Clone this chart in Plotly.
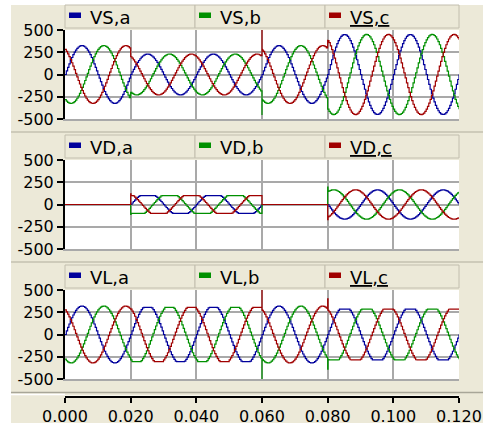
import numpy as np
import plotly.graph_objects as go

# ---------------- data ----------------
seg_edges = [0.0, 0.02, 0.06, 0.08, 0.12]          # s, disturbance segments
freq_hz = 50.0
phase_deg = {"a": 0.0, "b": -120.0, "c": 120.0}

vs_amp = [325, 230, 325, 450]     # source voltage amplitude per segment
vs_clip = [325, 230, 325, 450]
vd_amp = [0, 135, 0, -165]        # injected (DVR) voltage amplitude per segment
vd_clip = [0, 100, 0, 165]
vl_amp = [320, 330, 320, 320]     # load voltage amplitude per segment
vl_clip = [320, 305, 320, 285]

# switching transients (phase, time, value)
vs_spikes = [("c", 0.06, 500), ("b", 0.06, -455), ("c", 0.08, 370)]
vd_spikes = [("c", 0.02, 120), ("b", 0.02, -110), ("b", 0.08, 195), ("c", 0.08, -170)]
vl_spikes = [("c", 0.06, 500), ("b", 0.06, -500), ("c", 0.08, 400), ("b", 0.08, -390)]

panel_names = ["VS", "VD", "VL"]
phases = ["a", "b", "c"]
phase_colors = {"a": "#00009C", "b": "#009000", "c": "#A00000"}

y_tick_vals = [-500, -250, 0, 250, 500]
y_tick_text = ["-500", "-250", "0", "250", "500"]
x_tick_vals = [0.0, 0.02, 0.04, 0.06, 0.08, 0.10, 0.12]
x_tick_text = ["0.000", "0.020", "0.040", "0.060", "0.080", "0.100", "0.120"]

# ---------------- build waveforms ----------------
DT = 0.0004
t = np.arange(0.0, 0.12 + DT / 2, DT)


def wave(tt, amps, clips, ph):
    seg = np.clip(np.searchsorted(seg_edges, tt, side="right") - 1, 0, len(amps) - 1)
    A = np.array(amps, dtype=float)[seg]
    C = np.array(clips, dtype=float)[seg]
    v = A * np.sin(2 * np.pi * freq_hz * tt + np.deg2rad(ph))
    return np.clip(v, -np.abs(C), np.abs(C))


def series(amps, clips, spikes, p):
    tt = t.copy()
    vv = wave(tt, amps, clips, phase_deg[p])
    for (sp, st, sv) in spikes:
        if sp != p:
            continue
        t_back = st + 0.00012
        tt = np.append(tt, [st, t_back])
        vv = np.append(vv, [sv, wave(np.array([t_back]), amps, clips, phase_deg[p])[0]])
    order = np.argsort(tt, kind="stable")
    return tt[order], vv[order]


panel_params = [(vs_amp, vs_clip, vs_spikes), (vd_amp, vd_clip, vd_spikes), (vl_amp, vl_clip, vl_spikes)]

# ---------------- layout geometry (pixels) ----------------
W, H = 483, 423
BG = "#ECE9D8"
X0, X1 = 65, 459
panel_px = [(30, 119), (160, 249), (290, 379)]   # top, bottom of plot areas
legend_px = [5, 135, 265]                         # top of legend strips
box_x = [(65, 195), (195, 325), (325, 459)]


def fx(px):
    return px / W


def fy(px):
    return 1 - px / H


fig = go.Figure()

for i, (amps, clips, spikes) in enumerate(panel_params):
    xa = "x" if i == 0 else f"x{i+1}"
    ya = "y" if i == 0 else f"y{i+1}"
    for p in phases:
        tt, vv = series(amps, clips, spikes, p)
        fig.add_trace(go.Scatter(
            x=tt, y=vv, mode="lines", line=dict(color=phase_colors[p], width=1.2, shape="hv"),
            xaxis=xa, yaxis=ya, showlegend=False, hoverinfo="skip"))

# dummy trace for the bottom time axis
fig.add_trace(go.Scatter(x=[0.0, 0.12], y=[0, 0], mode="lines", line=dict(width=0),
                         opacity=0, xaxis="x4", yaxis="y4", showlegend=False, hoverinfo="skip"))

font_family = "DejaVu Sans"
layout = dict(
    width=W, height=H, margin=dict(l=0, r=0, t=0, b=0, pad=0, autoexpand=False),
    autosize=False,
    paper_bgcolor=BG, plot_bgcolor="white",
    font=dict(family=font_family, size=16, color="black"),
)

grid_col = "#A9A9A9"
for i, (top, bot) in enumerate(panel_px):
    sx = "xaxis" if i == 0 else f"xaxis{i+1}"
    sy = "yaxis" if i == 0 else f"yaxis{i+1}"
    ya = "y" if i == 0 else f"y{i+1}"
    xa = "x" if i == 0 else f"x{i+1}"
    layout[sx] = dict(domain=[fx(X0), fx(X1)], range=[0, 0.12], anchor=ya, automargin=False,
                      tickmode="array", tickvals=x_tick_vals, showticklabels=False, ticks="",
                      showgrid=True, gridcolor=grid_col, gridwidth=1.5, zeroline=False,
                      showline=True, linecolor=grid_col, linewidth=1.5)
    layout[sy] = dict(domain=[fy(bot), fy(top)], range=[-500, 500], anchor=xa, automargin=False,
                      tickmode="array", tickvals=y_tick_vals, ticktext=y_tick_text,
                      ticks="outside", ticklen=6, tickwidth=1.5, tickcolor="black",
                      showline=True, linecolor="black", linewidth=2,
                      showgrid=True, gridcolor=grid_col, gridwidth=1.5, zeroline=False,
                      tickfont=dict(family=font_family, size=16, color="black"))

layout["xaxis4"] = dict(domain=[fx(X0), fx(X1)], range=[0, 0.12], anchor="y4", automargin=False,
                        tickmode="array", tickvals=x_tick_vals, ticktext=x_tick_text,
                        ticks="outside", ticklen=5, tickwidth=1.5, tickcolor="black",
                        showline=True, linecolor="black", linewidth=1.5,
                        showgrid=False, zeroline=False,
                        tickfont=dict(family=font_family, size=16, color="black"))
layout["yaxis4"] = dict(domain=[fy(396.0), fy(395.5)], range=[-1, 1], anchor="x4",
                        visible=False, automargin=False)

shapes = []
annotations = []
# white outer margins
shapes.append(dict(type="rect", xref="paper", yref="paper", x0=0, x1=fx(11), y0=0, y1=1,
                   fillcolor="white", line=dict(width=0), layer="above"))
shapes.append(dict(type="rect", xref="paper", yref="paper", x0=0, x1=1, y0=fy(5), y1=1,
                   fillcolor="white", line=dict(width=0), layer="above"))
# panel separators
for ypx in [132, 262]:
    shapes.append(dict(type="line", xref="paper", yref="paper", x0=fx(11), x1=1, y0=fy(ypx), y1=fy(ypx),
                       line=dict(color="#C4C0B0", width=1.5)))
shapes.append(dict(type="line", xref="paper", yref="paper", x0=fx(11), x1=1, y0=fy(392.5), y1=fy(392.5),
                   line=dict(color="#A8A698", width=1.5)))
shapes.append(dict(type="line", xref="paper", yref="paper", x0=fx(11), x1=fx(X0), y0=fy(394.5), y1=fy(394.5),
                   line=dict(color="white", width=1.5)))

# legend strips
for i, top in enumerate(legend_px):
    for j, p in enumerate(phases):
        bx0, bx1 = box_x[j]
        shapes.append(dict(type="rect", xref="paper", yref="paper",
                           x0=fx(bx0), x1=fx(bx1), y0=fy(top + 23), y1=fy(top),
                           fillcolor=BG, line=dict(color="#C2BEAE", width=1)))
        shapes.append(dict(type="rect", xref="paper", yref="paper",
                           x0=fx(bx0 + 4), x1=fx(bx0 + 16), y0=fy(top + 13), y1=fy(top + 7.5),
                           fillcolor=phase_colors[p], line=dict(width=0)))
        label = f"{panel_names[i]},{p}"
        fnt = dict(family=font_family, size=18, color="black")
        if j == 2:
            fnt["lineposition"] = "under"
        annotations.append(dict(xref="paper", yref="paper", x=fx(bx0 + 23), y=fy(top + 12.5),
                                xanchor="left", yanchor="middle", text=label, showarrow=False,
                                font=fnt))

layout["shapes"] = shapes
layout["annotations"] = annotations
fig.update_layout(**layout)

fig.write_html("out.html", config={"responsive": False, "displayModeBar": False},
               post_script="document.body.style.margin='0';document.body.style.overflow='hidden';")
